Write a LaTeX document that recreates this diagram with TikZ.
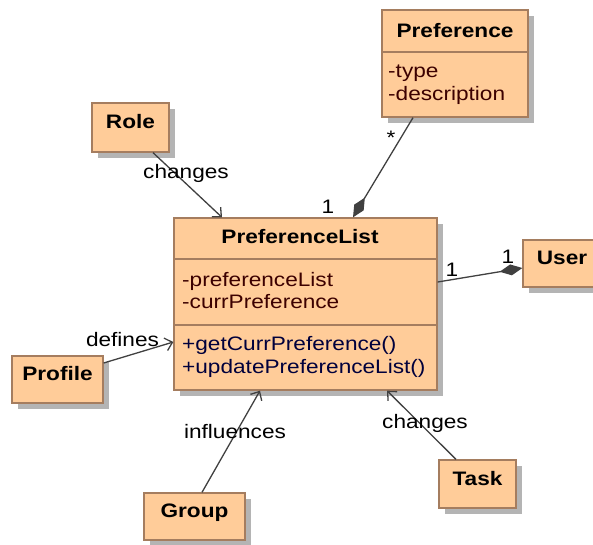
\documentclass[tikz,border=0pt]{standalone}
\usepackage{fontspec}
\setmainfont{Liberation Sans}[FakeStretch=1.16]
\usetikzlibrary{arrows.meta,shadows}

\definecolor{clsfill}{RGB}{255,204,153}
\definecolor{clsborder}{RGB}{165,125,95}
\definecolor{shadowgray}{RGB}{180,180,180}
\definecolor{linkgray}{RGB}{64,64,64}
\definecolor{attrcol}{RGB}{60,0,0}
\definecolor{opcol}{RGB}{0,0,60}

\tikzset{
	cls/.style={draw=clsborder, fill=clsfill, line width=1.3pt, inner sep=0pt, text depth=12pt,
		font=\fontsize{19.5}{22}\selectfont\bfseries,
		drop shadow={shadow xshift=6pt, shadow yshift=-6pt, fill=shadowgray, draw=none, opacity=1}},
	sep/.style={draw=clsborder, line width=1.3pt},
	attr/.style={anchor=base west, inner sep=0pt, text=attrcol, font=\fontsize{19.5}{22}\selectfont},
	oper/.style={anchor=base west, inner sep=0pt, text=opcol, font=\fontsize{19.5}{22}\selectfont},
	ttl/.style={anchor=base, inner sep=0pt, font=\fontsize{19.5}{22}\selectfont\bfseries},
	lbl/.style={inner sep=0pt, font=\fontsize{19.5}{22}\selectfont},
	link/.style={draw=linkgray, line width=1.3pt},
	dep/.style={link, -{Straight Barb[length=7pt, width=13pt, line width=1.3pt]}},
	comp/.style={link, -{Diamond[length=23pt, width=11pt, fill=linkgray]}}
}

\begin{document}
\begin{tikzpicture}[x=1pt, y=-1pt]
	\clip (0,0) rectangle (593,544);
	
	% Classes
	\node[cls, minimum width=146pt, minimum height=107pt] (pref) at (455,63.5) {};
	\node[cls, minimum width=263pt, minimum height=172pt] (plist) at (305.5,304) {};
	\node[cls, minimum width=78pt, minimum height=47pt] (user) at (562,263.5) {User};
	\node[cls, minimum width=77pt, minimum height=49pt] (role) at (130.5,127.5) {Role};
	\node[cls, minimum width=91pt, minimum height=47pt] (profile) at (57.5,379.5) {Profile};
	\node[cls, minimum width=101pt, minimum height=47pt] (group) at (194.5,516.5) {Group};
	\node[cls, minimum width=77pt, minimum height=48pt] (task) at (477.5,484) {Task};
	
	% Preference compartments
	\draw[sep] (pref.west |- 0,52) -- (pref.east |- 0,52);
	\node[ttl] (preftitle) at (455,37) {Preference};
	\node[attr] (preftype) at (388,77) {-type};
	\node[attr] (prefdesc) at (388,100) {-description};
	
	% PreferenceList compartments
	\draw[sep] (plist.west |- 0,259) -- (plist.east |- 0,259);
	\draw[sep] (plist.west |- 0,325) -- (plist.east |- 0,325);
	\node[ttl] (plisttitle) at (300,243) {PreferenceList};
	\node[attr] (plistlist) at (182,286) {-preferenceList};
	\node[attr] (plistcurr) at (182,308) {-currPreference};
	\node[oper] (plistget) at (182,350) {+getCurrPreference()};
	\node[oper] (plistupd) at (182,373) {+updatePreferenceList()};
	
	% Compositions
	\draw[comp] ([xshift=-42pt]pref.south) -- ([xshift=47.5pt]plist.north);
	\node[lbl] (prefmany) at (391,138) {*};
	\node[lbl] (prefone) at (328,207) {1};
	\draw[comp] ([yshift=22pt]plist.east) -- ([yshift=-4.5pt]user.west);
	\node[lbl] (plistone) at (452,270) {1};
	\node[lbl] (userone) at (508,257) {1};
	
	% Dependencies
	\draw[dep] ([xshift=22.5pt]role.south) -- ([xshift=-83.5pt]plist.north);
	\node[lbl] (rolelbl) at (186,173) {changes};
	\draw[dep] ([yshift=16.5pt]profile.east) -- ([yshift=-38pt]plist.west);
	\node[lbl] (profilelbl) at (122.5,340) {defines};
	\draw[dep] ([xshift=7.5pt]group.north) -- ([xshift=-45.5pt]plist.south);
	\node[lbl] (grouplbl) at (235,432) {influences};
	\draw[dep] ([xshift=-21.5pt]task.north) -- ([xshift=81.5pt]plist.south);
	\node[lbl] (tasklbl) at (425,423) {changes};
	
\end{tikzpicture}
\end{document}
